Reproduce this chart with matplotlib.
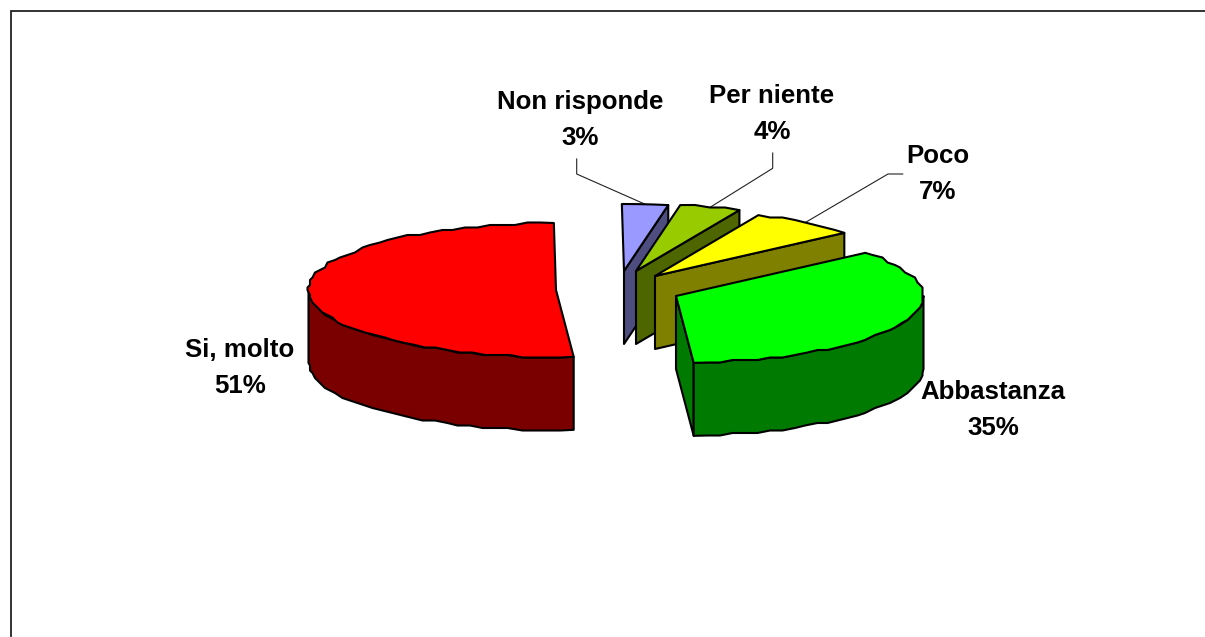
import numpy as np
from matplotlib import pyplot as plt
from matplotlib.patches import Polygon

plt.rcParams['font.family'] = ['Liberation Sans', 'DejaVu Sans']

# clockwise from the top, same order as the chart's slices
labels = ['Non risponde', 'Per niente', 'Poco', 'Abbastanza', 'Si, molto']
values = [3, 4, 7, 35, 51]
top_colors = ['#9999ff', '#99cc00', '#ffff00', '#00ff00', '#ff0000']
side_colors = ['#4d4d80', '#4d6600', '#808000', '#007a00', '#7a0000']

# exploded centre of every slice, in pixels
centers_x = [624, 636, 655, 676, 556]
centers_y = [271, 271, 276, 296, 290]
label_x = [580, 772, 938, 993, 240]
label_y = [120, 114, 174, 410, 368]
# leader lines: from the label to the middle of the rim
leader_x = [[576.7, 576.7], [772.7, 772.7], [902.7, 888]]
leader_y = [[159, 174], [153, 168.3], [174, 174]]

A = 247.5
B = 67
DEPTH = 73
START = 90.5
STEP = 3
GRID = 2.5  # the rim of the original is a low-res, bumpy polyline


def arc(cx, cy, t1, t2, snap=False):
    n = max(2, int(abs(t2 - t1) / STEP) + 1)
    t = np.radians(np.linspace(t1, t2, n))
    pts = np.column_stack([cx + A * np.cos(t), cy - B * np.sin(t)])
    if snap and n > 4:
        pts[1:-1] = np.round(pts[1:-1] / GRID) * GRID
    return pts


def shape(pts, color, zorder):
    ax.add_patch(Polygon(pts, closed=True, facecolor=color, edgecolor='black',
                         linewidth=1.5, joinstyle='round', zorder=zorder))


fig = plt.figure(figsize=(12.05, 6.37), dpi=100)
ax = fig.add_axes([0, 0, 1, 1])
ax.set_xlim(0, 1205)
ax.set_ylim(637, 0)
ax.axis('off')

# frame, cut off on the right and at the bottom
ax.plot([1205, 10.5, 10.5], [10.5, 10.5, 636], color='#222222', lw=1.3,
        solid_joinstyle='miter', zorder=1)

sweeps = np.array(values) / sum(values) * 360
ends = START - np.cumsum(sweeps)
starts = ends + sweeps

for i in range(len(values)):
    cx, cy = centers_x[i], centers_y[i]
    z = 2 + i * 3
    t1, t2 = starts[i], ends[i]

    # cut face on the clockwise end, the red one is hidden behind its own top
    if i < 4:
        p = arc(cx, cy, t2, t2)[0]
        shape([(cx, cy), p, (p[0], p[1] + DEPTH), (cx, cy + DEPTH)], side_colors[i], z)

    # outer wall on the front part of the rim
    lo, hi = max(t2, -180), min(t1, 0)
    if lo < hi:
        rim = arc(cx, cy, lo, hi, snap=True)
        wall = np.vstack([rim, (rim + [0, DEPTH])[::-1]])
        shape(wall, side_colors[i], z + 1)

    top = np.vstack([[(cx, cy)], arc(cx, cy, t1, t2, snap=True)])
    shape(top, top_colors[i], z + 2)

    ax.text(label_x[i], label_y[i], '%s\n%d%%' % (labels[i], values[i]),
            ha='center', va='center', fontsize=18.6, fontweight='bold',
            linespacing=1.62, color='black', zorder=30)

    if i < 3:
        mid = np.radians((t1 + t2) / 2)
        mx = cx + A * np.cos(mid)
        my = cy - B * np.sin(mid)
        ax.plot(leader_x[i] + [mx], leader_y[i] + [my], color='#222222', lw=0.8, zorder=1)

fig.savefig('out.png', dpi=100)
